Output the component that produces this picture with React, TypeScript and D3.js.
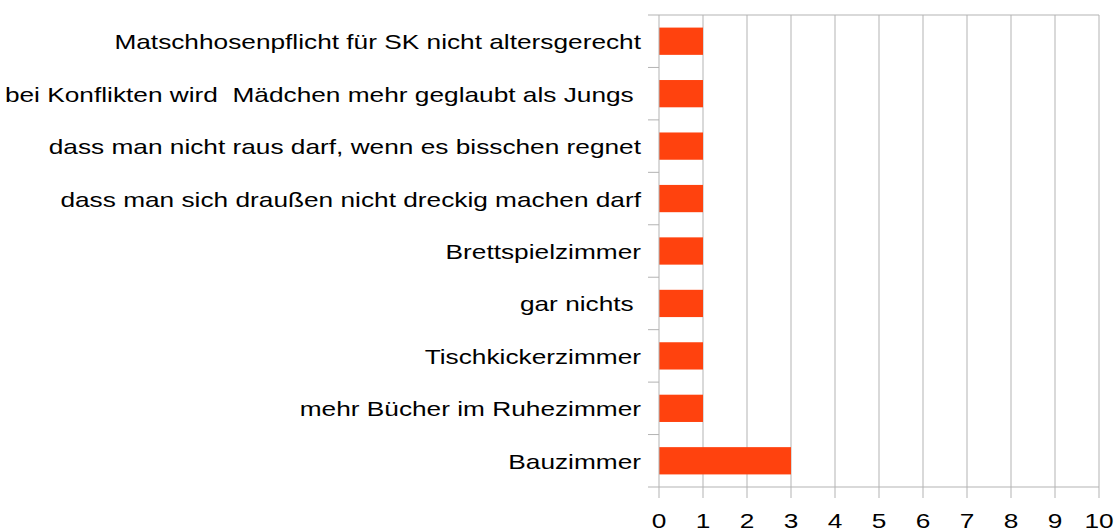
import React, { useEffect, useRef } from 'react';
import * as d3 from 'd3';

const categories = [
  'Matschhosenpflicht für SK nicht altersgerecht',
  'bei Konflikten wird  Mädchen mehr geglaubt als Jungs ',
  'dass man nicht raus darf, wenn es bisschen regnet',
  'dass man sich draußen nicht dreckig machen darf',
  'Brettspielzimmer',
  'gar nichts ',
  'Tischkickerzimmer',
  'mehr Bücher im Ruhezimmer',
  'Bauzimmer',
];
const values = [1, 1, 1, 1, 1, 1, 1, 1, 3];
const xTicks = [0, 1, 2, 3, 4, 5, 6, 7, 8, 9, 10];

const App = () => {
  const ref = useRef<SVGSVGElement>(null);

  useEffect(() => {
    const width = 1115;
    const height = 532;
    const left = 659, right = 1099, top = 15, bottom = 487;
    const stretch = 1.25; // text in the picture is wider than normal
    const gridColor = '#b3b3b3';

    const svg = d3.select(ref.current);
    svg.selectAll('*').remove();
    svg.attr('width', width).attr('height', height);

    const x = d3.scaleLinear().domain([0, 10]).range([left, right]);
    const y = d3.scaleBand<string>()
      .domain(categories)
      .range([top, bottom])
      .paddingInner(0.48)
      .paddingOuter(0.24);
    const step = y.step();

    // vertical gridlines
    svg.append('g')
      .selectAll('line')
      .data(xTicks.filter(d => d > 0))
      .enter()
      .append('line')
      .attr('x1', d => x(d)).attr('x2', d => x(d))
      .attr('y1', top).attr('y2', bottom)
      .attr('stroke', gridColor).attr('stroke-width', 1);

    // bars
    svg.append('g')
      .selectAll('rect')
      .data(values)
      .enter()
      .append('rect')
      .attr('x', x(0))
      .attr('y', (d, i) => y(categories[i])!)
      .attr('width', d => x(d) - x(0))
      .attr('height', y.bandwidth())
      .attr('fill', '#ff420e');

    // axis lines
    svg.append('line')
      .attr('x1', left).attr('x2', left).attr('y1', top).attr('y2', bottom)
      .attr('stroke', gridColor);
    svg.append('line')
      .attr('x1', left - 11).attr('x2', right).attr('y1', top).attr('y2', top)
      .attr('stroke', gridColor);
    svg.append('line')
      .attr('x1', left - 11).attr('x2', right).attr('y1', bottom).attr('y2', bottom)
      .attr('stroke', gridColor);

    // category ticks between bands
    svg.append('g')
      .selectAll('line')
      .data(d3.range(1, categories.length))
      .enter()
      .append('line')
      .attr('x1', left - 11).attr('x2', left)
      .attr('y1', i => top + i * step).attr('y2', i => top + i * step)
      .attr('stroke', gridColor);

    // x ticks
    svg.append('g')
      .selectAll('line')
      .data(xTicks)
      .enter()
      .append('line')
      .attr('x1', d => x(d)).attr('x2', d => x(d))
      .attr('y1', bottom).attr('y2', bottom + 11)
      .attr('stroke', gridColor);

    // x tick labels
    svg.append('g')
      .selectAll('text')
      .data(xTicks)
      .enter()
      .append('text')
      .attr('transform', d => `translate(${x(d)},${528}) scale(${stretch},1)`)
      .attr('text-anchor', 'middle')
      .attr('font-family', '"Liberation Sans", Arial, sans-serif')
      .attr('font-size', 21)
      .attr('fill', '#000')
      .text(d => d);

    // category labels
    svg.append('g')
      .selectAll('text')
      .data(categories)
      .enter()
      .append('text')
      .attr('transform', d => `translate(${left - 18},${y(d)! + y.bandwidth() / 2 + 8}) scale(${stretch},1)`)
      .attr('text-anchor', 'end')
      .attr('xml:space', 'preserve')
      .style('white-space', 'pre')
      .attr('font-family', '"Liberation Sans", Arial, sans-serif')
      .attr('font-size', 21)
      .attr('fill', '#000')
      .text(d => d);
  }, []);

  return (
    <svg ref={ref} style={{ position: 'absolute', left: 0, top: 0, background: '#fff' }} />
  );
};

export default App;
